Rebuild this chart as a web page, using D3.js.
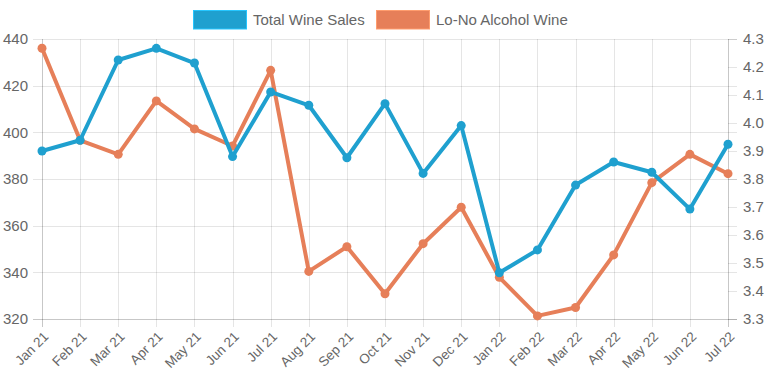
<!DOCTYPE html>
<html>
<head>
<meta charset="utf-8">
<script src="https://cdnjs.cloudflare.com/ajax/libs/d3/7.8.5/d3.min.js"></script>
<style>
  body { margin: 0; background: #fff; }
  svg text { font-family: "Liberation Sans", Arial, Helvetica, sans-serif; fill: #666; }
</style>
</head>
<body>
<div id="container" style="width:767px;height:383px"></div>
<script>
'use strict';

var months = ['Jan 21', 'Feb 21', 'Mar 21', 'Apr 21', 'May 21', 'Jun 21', 'Jul 21', 'Aug 21', 'Sep 21', 'Oct 21',
  'Nov 21', 'Dec 21', 'Jan 22', 'Feb 22', 'Mar 22', 'Apr 22', 'May 22', 'Jun 22', 'Jul 22'];
var totalWineSales = [392, 396.6, 431, 436, 429.7, 389.6, 417.3, 411.6, 389.1, 412.3,
  382.4, 402.9, 339.8, 349.6, 377.4, 387.3, 382.9, 367.1, 394.9];
var loNoAlcoholWine = [4.267, 3.938, 3.888, 4.079, 3.979, 3.918, 4.188, 3.470, 3.558, 3.390,
  3.569, 3.699, 3.449, 3.311, 3.341, 3.529, 3.787, 3.888, 3.819];
var leftTicks = [320, 340, 360, 380, 400, 420, 440];
var rightTicks = [3.3, 3.4, 3.5, 3.6, 3.7, 3.8, 3.9, 4.0, 4.1, 4.2, 4.3];

var series = [
  {name: 'Total Wine Sales', values: totalWineSales, color: '#1fa0cf', axis: 'left'},
  {name: 'Lo-No Alcohol Wine', values: loNoAlcoholWine, color: '#e67f59', axis: 'right'}
];

var chart = {};
chart.margin = {top: 39, right: 39, bottom: 64, left: 42};
chart.width = 767 - chart.margin.left - chart.margin.right;
chart.height = 383 - chart.margin.top - chart.margin.bottom;

var svg = d3.select('#container').append('svg')
  .attr('width', 767)
  .attr('height', 383);

var g = svg.append('g')
  .attr('transform', 'translate(' + chart.margin.left + ',' + chart.margin.top + ')');

var x = d3.scalePoint().domain(months).range([0, chart.width]);
var yLeft = d3.scaleLinear().domain([320, 440]).range([chart.height, 0]);
var yRight = d3.scaleLinear().domain([3.3, 4.3]).range([chart.height, 0]);

var gridColor = 'rgba(0,0,0,0.1)';
var axisColor = 'rgba(0,0,0,0.22)';

/* ------- GRID -------*/
g.append('g').selectAll('line.hgrid').data(leftTicks).enter()
  .append('line')
  .attr('x1', -9).attr('x2', chart.width + 9)
  .attr('y1', function(d) { return Math.round(yLeft(d)) + 0.5; })
  .attr('y2', function(d) { return Math.round(yLeft(d)) + 0.5; })
  .attr('stroke', function(d) { return d === 320 ? axisColor : gridColor; });

g.append('g').selectAll('line.vgrid').data(months).enter()
  .append('line')
  .attr('x1', function(d) { return Math.round(x(d)) + 0.5; })
  .attr('x2', function(d) { return Math.round(x(d)) + 0.5; })
  .attr('y1', 0).attr('y2', chart.height + 8)
  .attr('stroke', function(d, i) { return (i === 0 || i === months.length - 1) ? axisColor : gridColor; });

// right axis tick marks for the in-between values
g.append('g').selectAll('line.rtick').data(rightTicks).enter()
  .append('line')
  .attr('x1', chart.width).attr('x2', chart.width + 9)
  .attr('y1', function(d) { return Math.round(yRight(d)) + 0.5; })
  .attr('y2', function(d) { return Math.round(yRight(d)) + 0.5; })
  .attr('stroke', gridColor);

/* ------- AXIS LABELS -------*/
g.append('g').selectAll('text').data(leftTicks).enter()
  .append('text')
  .attr('x', -14)
  .attr('y', function(d) { return yLeft(d); })
  .attr('dy', '0.35em')
  .attr('text-anchor', 'end')
  .style('font-size', '15px')
  .text(function(d) { return d; });

g.append('g').selectAll('text').data(rightTicks).enter()
  .append('text')
  .attr('x', chart.width + 15)
  .attr('y', function(d) { return yRight(d); })
  .attr('dy', '0.35em')
  .attr('text-anchor', 'start')
  .style('font-size', '15px')
  .text(function(d) { return d3.format('.1f')(d); });

g.append('g').selectAll('text').data(months).enter()
  .append('text')
  .attr('transform', function(d) { return 'translate(' + (x(d) + 4) + ',' + (chart.height + 15) + ') rotate(-45)'; })
  .attr('dy', '0.35em')
  .attr('text-anchor', 'end')
  .style('font-size', '13.5px')
  .text(function(d) { return d; });

/* ------- LINES -------*/
// first dataset ends up on top, so draw in reverse order
series.slice().reverse().forEach(function(s) {
  var y = s.axis === 'left' ? yLeft : yRight;
  var line = d3.line()
    .x(function(d, i) { return x(months[i]); })
    .y(function(d) { return y(d); });

  g.append('path')
    .datum(s.values)
    .attr('d', line)
    .attr('fill', 'none')
    .attr('stroke', s.color)
    .attr('stroke-width', 4)
    .attr('stroke-linejoin', 'round');

  g.append('g').selectAll('circle').data(s.values).enter()
    .append('circle')
    .attr('cx', function(d, i) { return x(months[i]); })
    .attr('cy', function(d) { return y(d); })
    .attr('r', 4.5)
    .attr('fill', s.color);
});

/* ------- LEGEND -------*/
var legendX = [193, 376];
var legend = svg.append('g').selectAll('g.legend').data(series).enter()
  .append('g')
  .attr('class', 'legend')
  .attr('transform', function(d, i) { return 'translate(' + legendX[i] + ',10)'; });

legend.append('rect')
  .attr('x', 0.5).attr('y', 0.5)
  .attr('width', 53).attr('height', 18.5)
  .attr('fill', function(d) { return d.color; })
  .attr('stroke', function(d) { return d3.color(d.color).brighter(0.6); })
  .attr('stroke-width', 1);

legend.append('text')
  .attr('x', 60)
  .attr('y', 10)
  .attr('dy', '0.35em')
  .style('font-size', '15px')
  .text(function(d) { return d.name; });
</script>
</body>
</html>
